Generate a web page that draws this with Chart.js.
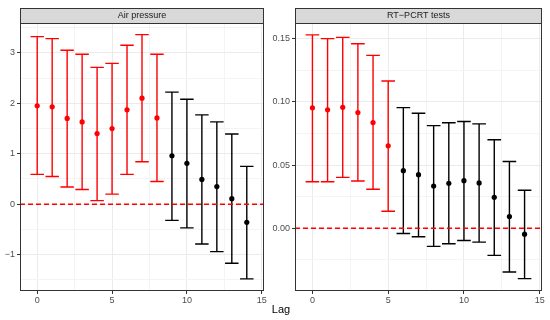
<!DOCTYPE html>
<html>
<head>
<meta charset="utf-8">
<script src="https://cdn.jsdelivr.net/npm/chart.js@4"></script>
<style>
  body { margin: 0; background: #fff; }
  #wrap { position: relative; width: 550px; height: 320px; font-family: "Liberation Sans", Arial, sans-serif; }
  #airCanvas { position: absolute; left: 0; top: 0; }
  #pcrCanvas { position: absolute; left: 268px; top: 0; }
  #xTitle { position: absolute; left: 0; width: 562px; top: 303px; text-align: center; font-size: 11px; color: #000; }
</style>
</head>
<body>
<div id="wrap">
  <canvas id="airCanvas" width="268" height="320"></canvas>
  <canvas id="pcrCanvas" width="282" height="320"></canvas>
  <div id="xTitle">Lag</div>
</div>
<script>
// Lags shown on the x axis
const lags = [0, 1, 2, 3, 4, 5, 6, 7, 8, 9, 10, 11, 12, 13, 14];

// Air pressure: estimate and confidence bounds
const airEst   = [1.95, 1.93, 1.70, 1.63, 1.40, 1.50, 1.87, 2.10, 1.71, 0.96, 0.81, 0.49, 0.35, 0.11, -0.36];
const airLower = [0.59, 0.55, 0.34, 0.29, 0.07, 0.20, 0.59, 0.84, 0.45, -0.32, -0.47, -0.79, -0.94, -1.17, -1.48];
const airUpper = [3.32, 3.28, 3.05, 2.97, 2.71, 2.79, 3.15, 3.36, 2.97, 2.22, 2.08, 1.77, 1.63, 1.39, 0.75];

// RT-PCRT tests: estimate and confidence bounds
const pcrEst   = [0.0953, 0.0937, 0.0957, 0.0915, 0.0836, 0.0652, 0.0455, 0.0424, 0.0334, 0.0355, 0.0376, 0.0358, 0.0244, 0.0092, -0.0047];
const pcrLower = [0.0368, 0.0368, 0.0402, 0.0374, 0.0308, 0.0134, -0.0042, -0.0068, -0.0144, -0.0123, -0.0097, -0.0110, -0.0215, -0.0347, -0.0399];
const pcrUpper = [0.153, 0.150, 0.151, 0.146, 0.1368, 0.1165, 0.0954, 0.0910, 0.0812, 0.0834, 0.0844, 0.0826, 0.070, 0.0528, 0.030];

// Tick labels
const lagTicks = [0, 5, 10, 15];
const airYTicks = [-1, 0, 1, 2, 3];
const pcrYTicks = [0, 0.05, 0.10, 0.15];
const refLine = 0;

const RED = '#ff0000';
const BLACK = '#000000';

// add minor gridlines halfway between major ticks
function withMinor(major, lo, hi) {
    const step = major[1] - major[0];
    const out = [];
    for (let v = major[0] - step; v <= major[major.length - 1] + step + 1e-9; v += step / 2) {
        const r = Math.round(v * 1e6) / 1e6;
        if (r >= lo && r <= hi) out.push(r);
    }
    return out;
}

const errorBars = {
    id: 'errorBars',
    beforeDatasetsDraw(chart) {
        const { ctx, scales: { x, y } } = chart;
        const capHalf = 0.45;
        ctx.save();
        ctx.lineWidth = 1.4;
        chart.data.datasets[0].data.forEach(p => {
            const xc = x.getPixelForValue(p.x);
            const x0 = x.getPixelForValue(p.x - capHalf);
            const x1 = x.getPixelForValue(p.x + capHalf);
            const yl = y.getPixelForValue(p.lo);
            const yh = y.getPixelForValue(p.hi);
            ctx.strokeStyle = p.lo > 0 ? RED : BLACK;
            ctx.beginPath();
            ctx.moveTo(xc, yl); ctx.lineTo(xc, yh);
            ctx.moveTo(x0, yl); ctx.lineTo(x1, yl);
            ctx.moveTo(x0, yh); ctx.lineTo(x1, yh);
            ctx.stroke();
        });
        ctx.restore();
    },
    afterDatasetsDraw(chart) {
        // dashed reference line and panel border
        const { ctx, chartArea: a, scales: { y } } = chart;
        ctx.save();
        const yz = y.getPixelForValue(refLine);
        ctx.strokeStyle = RED;
        ctx.lineWidth = 1.4;
        ctx.setLineDash([5, 3]);
        ctx.beginPath();
        ctx.moveTo(a.left, yz); ctx.lineTo(a.right, yz);
        ctx.stroke();
        ctx.setLineDash([]);
        ctx.strokeStyle = '#333333';
        ctx.lineWidth = 1;
        ctx.strokeRect(a.left + 0.5, a.top + 0.5, a.right - a.left - 1, a.bottom - a.top - 1);
        ctx.restore();
    },
    afterDraw(chart, args, opts) {
        // facet strip
        const { ctx, chartArea: a } = chart;
        ctx.save();
        ctx.fillStyle = '#d9d9d9';
        ctx.fillRect(a.left, 8, a.right - a.left, 15);
        ctx.strokeStyle = '#333333';
        ctx.lineWidth = 1;
        ctx.strokeRect(a.left + 0.5, 8.5, a.right - a.left - 1, 15);
        ctx.fillStyle = '#1a1a1a';
        ctx.font = '9px "Liberation Sans", Arial, sans-serif';
        ctx.textAlign = 'center';
        ctx.textBaseline = 'middle';
        ctx.fillText(opts.title, (a.left + a.right) / 2, 16);
        ctx.restore();
    }
};

function makePanel(id, title, est, lower, upper, yMin, yMax, yTicks, yFmt, yWidth, padRight) {
    const points = lags.map((l, i) => ({ x: l, y: est[i], lo: lower[i], hi: upper[i] }));
    const xAll = withMinor(lagTicks, -1.15, 15.15);
    const yAll = withMinor(yTicks, yMin, yMax);
    const isMajor = (list, v) => list.some(t => Math.abs(t - v) < 1e-9);
    const tickFont = { family: '"Liberation Sans", Arial, sans-serif', size: 9 };

    return new Chart(document.getElementById(id), {
        type: 'scatter',
        data: {
            datasets: [{
                data: points,
                pointRadius: 2.6,
                pointBorderWidth: 0,
                pointBackgroundColor: points.map(p => p.lo > 0 ? RED : BLACK),
                pointBorderColor: points.map(p => p.lo > 0 ? RED : BLACK)
            }]
        },
        options: {
            responsive: false,
            animation: false,
            devicePixelRatio: 1,
            layout: { padding: { top: 23, right: padRight, left: 0, bottom: 0 } },
            plugins: {
                legend: { display: false },
                tooltip: { enabled: false },
                errorBars: { title: title }
            },
            scales: {
                x: {
                    type: 'linear',
                    min: -1.15,
                    max: 15.15,
                    afterBuildTicks: s => { s.ticks = xAll.map(v => ({ value: v })); },
                    afterFit: s => { s.height = 29; },
                    border: { display: false },
                    grid: {
                        color: c => isMajor(lagTicks, c.tick.value) ? '#ebebeb' : '#f4f4f4',
                        tickColor: c => isMajor(lagTicks, c.tick.value) ? '#333333' : 'rgba(0,0,0,0)',
                        tickLength: 3
                    },
                    ticks: {
                        autoSkip: false,
                        maxRotation: 0,
                        padding: 1,
                        color: '#4d4d4d',
                        font: tickFont,
                        callback: v => isMajor(lagTicks, v) ? String(v) : ''
                    }
                },
                y: {
                    min: yMin,
                    max: yMax,
                    afterBuildTicks: s => { s.ticks = yAll.map(v => ({ value: v })); },
                    afterFit: s => { s.width = yWidth; },
                    border: { display: false },
                    grid: {
                        color: c => isMajor(yTicks, c.tick.value) ? '#ebebeb' : '#f4f4f4',
                        tickColor: c => isMajor(yTicks, c.tick.value) ? '#333333' : 'rgba(0,0,0,0)',
                        tickLength: 3
                    },
                    ticks: {
                        autoSkip: false,
                        padding: 2,
                        color: '#4d4d4d',
                        font: tickFont,
                        callback: v => isMajor(yTicks, v) ? yFmt(v) : ''
                    }
                }
            }
        },
        plugins: [errorBars]
    });
}

makePanel('airCanvas', 'Air pressure', airEst, airLower, airUpper, -1.72, 3.59, airYTicks,
    v => v < 0 ? '\u2212' + Math.abs(v) : String(v), 20, 1);
makePanel('pcrCanvas', 'RT\u2212PCRT tests', pcrEst, pcrLower, pcrUpper, -0.0497, 0.1624, pcrYTicks,
    v => v.toFixed(2), 27, 8);
</script>
</body>
</html>
